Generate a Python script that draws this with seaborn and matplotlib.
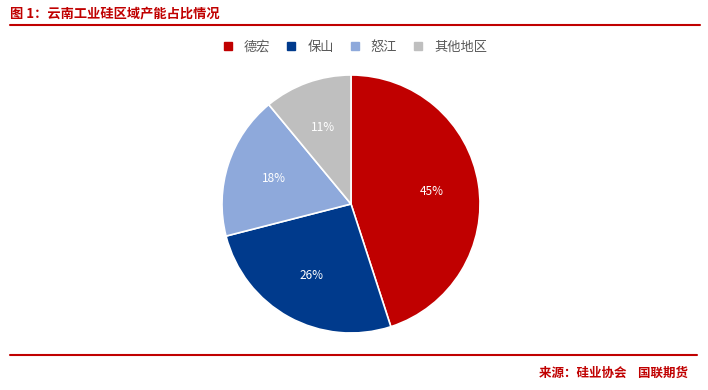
import matplotlib
matplotlib.use("Agg")
import matplotlib.pyplot as plt
import seaborn as sns
from matplotlib.lines import Line2D

# data
regions = ["德宏", "保山", "怒江", "其他地区"]
shares = [45, 26, 18, 11]
colors = ["#C00000", "#003A8C", "#8EA9DB", "#BFBFBF"]

title = "图 1：云南工业硅区域产能占比情况"
source = "来源：硅业协会    国联期货"

sns.set_theme(style="white")
plt.rcParams["font.family"] = ["Noto Sans CJK SC", "DejaVu Sans"]

fig = plt.figure(figsize=(7.08, 3.9), dpi=100)
ax = fig.add_axes([(351 - 129) / 708, (186 - 129) / 390, 258 / 708, 258 / 390])

wedges, texts, autotexts = ax.pie(
    shares, colors=colors, startangle=90, counterclock=False,
    autopct="%d%%", pctdistance=0.63,
    wedgeprops=dict(edgecolor="white", linewidth=1.2),
    textprops=dict(color="white", fontsize=8.5),
)
ax.set_xlim(-1, 1)
ax.set_ylim(-1, 1)
ax.set_aspect("equal")

# legend
handles = [Line2D([0], [0], marker="s", linestyle="", markersize=5.5,
                  markerfacecolor=c, markeredgecolor=c) for c in colors]
fig.legend(handles, regions, loc="center", bbox_to_anchor=(351 / 708, 1 - 47 / 390),
           ncol=4, frameon=False, fontsize=9.5, handletextpad=0.2, columnspacing=0.6,
           labelcolor="#595959")

# header / footer
fig.text(10 / 708, 1 - 13 / 390, title, color="#C00000", fontsize=9.5,
         fontweight="bold", va="center", ha="left")
fig.add_artist(Line2D([10 / 708, 700 / 708], [1 - 25 / 390, 1 - 25 / 390],
                      color="#C00000", linewidth=1.5))
fig.add_artist(Line2D([10 / 708, 697 / 708], [1 - 355 / 390, 1 - 355 / 390],
                      color="#C00000", linewidth=1.5))
fig.text(688 / 708, 1 - 373 / 390, source, color="#C00000", fontsize=9,
         fontweight="bold", va="center", ha="right")

fig.savefig("out.png", dpi=100)
